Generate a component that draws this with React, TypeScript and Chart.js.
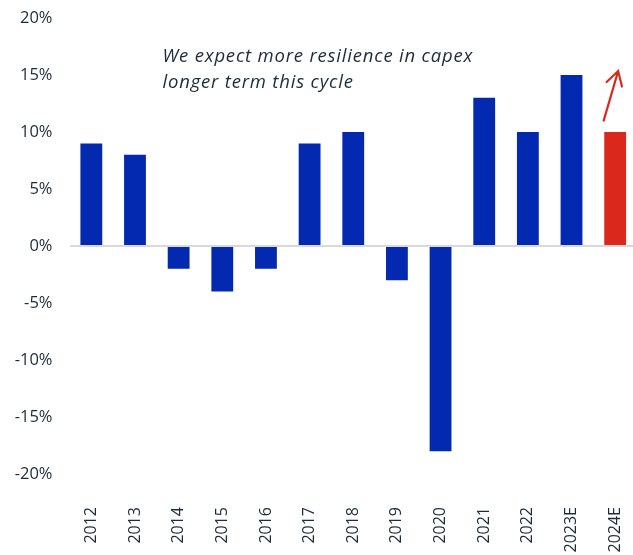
import React, { useEffect, useRef } from "react";
import { Chart, registerables } from "chart.js";

Chart.register(...registerables);

const categories = ["2012", "2013", "2014", "2015", "2016", "2017", "2018", "2019", "2020", "2021", "2022", "2023E", "2024E"];
const growth = [9, 8, -2, -4, -2, 9, 10, -3, -18, 13, 10, 15, 10];
const barColors = ["#0229B0", "#0229B0", "#0229B0", "#0229B0", "#0229B0", "#0229B0", "#0229B0", "#0229B0", "#0229B0", "#0229B0", "#0229B0", "#0229B0", "#DA291C"];
const annotationLines = ["We expect more resilience in capex", "longer term this cycle"];
const yMin = -20;
const yMax = 20;
const yStep = 5;

const TEXT = "#1d2b3a";
const FONT = "'Open Sans'";

const annotationPlugin = {
  id: "annot",
  afterDatasetsDraw(chart: any) {
    const { ctx, scales, chartArea } = chart;
    const x = scales.x;
    const y = scales.y;
    ctx.save();
    ctx.fillStyle = TEXT;
    ctx.font = `italic 18.5px ${FONT}`;
    try {
      (ctx as any).letterSpacing = "0.8px";
    } catch (e) {}
    ctx.textAlign = "left";
    ctx.textBaseline = "alphabetic";
    const tx = chartArea.left + 93;
    ctx.fillText(annotationLines[0], tx, y.getPixelForValue(16.1));
    ctx.fillText(annotationLines[1], tx, y.getPixelForValue(13.9));
    try {
      (ctx as any).letterSpacing = "0px";
    } catch (e) {}
    const cx = x.getPixelForValue(categories.length - 1);
    const sx = cx - 11.5;
    const sy = y.getPixelForValue(11);
    const ex = cx + 3;
    const ey = y.getPixelForValue(15.35);
    ctx.strokeStyle = "#DA291C";
    ctx.lineWidth = 2.2;
    ctx.lineCap = "round";
    ctx.beginPath();
    ctx.moveTo(sx, sy);
    ctx.lineTo(ex, ey);
    const ang = Math.atan2(ey - sy, ex - sx);
    const len = 16;
    const spread = (30 * Math.PI) / 180;
    ctx.moveTo(ex - len * Math.cos(ang - spread), ey - len * Math.sin(ang - spread));
    ctx.lineTo(ex, ey);
    ctx.lineTo(ex - len * Math.cos(ang + spread), ey - len * Math.sin(ang + spread));
    ctx.stroke();
    ctx.restore();
  },
};

export default function App() {
  const ref = useRef<HTMLCanvasElement>(null);
  useEffect(() => {
    document.body.style.margin = "0";
    document.body.style.overflow = "hidden";
    const chart = new Chart(ref.current!, {
      type: "bar",
      data: {
        labels: categories,
        datasets: [
          {
            data: growth,
            backgroundColor: barColors,
            categoryPercentage: 1,
            barPercentage: 0.5,
          },
        ],
      },
      options: {
        animation: false,
        responsive: false,
        layout: { padding: { left: 0, right: 0, top: 18, bottom: 0 } },
        plugins: { legend: { display: false }, tooltip: { enabled: false } },
        scales: {
          x: {
            afterFit(scale: any) {
              scale.height = 81;
              scale.paddingLeft = 0;
              scale.paddingRight = 0;
            },
            grid: { display: false },
            border: { display: false },
            ticks: {
              minRotation: 90,
              maxRotation: 90,
              padding: 25,
              color: TEXT,
              font: { family: FONT, size: 16 },
            },
          },
          y: {
            min: yMin,
            max: yMax,
            afterFit(scale: any) {
              scale.width = 69.5;
              scale.paddingTop = 0;
              scale.paddingBottom = 0;
            },
            border: { display: false },
            grid: {
              drawTicks: false,
              lineWidth: 2,
              color: (c: any) => (c.tick && c.tick.value === 0 ? "#d9d9d9" : "rgba(0,0,0,0)"),
            },
            ticks: {
              stepSize: yStep,
              padding: 17,
              color: TEXT,
              font: { family: FONT, size: 16.5 },
              callback: (v: any) => `${v}%`,
            },
          },
        },
      },
      plugins: [annotationPlugin],
    });
    return () => chart.destroy();
  }, []);
  return (
    <div style={{ width: 633, height: 555, overflow: "hidden" }}>
      <canvas ref={ref} width={637} height={555} style={{ display: "block" }} />
    </div>
  );
}
